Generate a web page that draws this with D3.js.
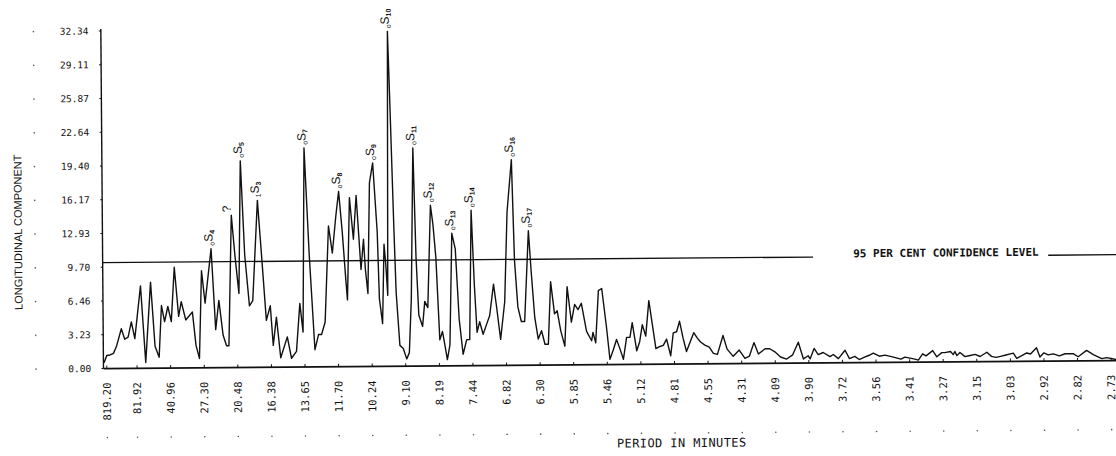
<!DOCTYPE html>
<html>
<head>
<meta charset="utf-8">
<script src="https://cdn.jsdelivr.net/npm/d3@7"></script>
<style>
  body { margin: 0; background: #fff; }
  svg { display: block; }
</style>
</head>
<body>
<div class="chart"></div>
<script>

// frequency index (period = 819.2 / index minutes) and spectral amplitude
const freqIdx = [0.2,1.0,2.0,3.0,3.9,5.4,6.4,7.4,8.4,9.4,11.2,12.6,14.2,15.4,16.6,17.4,18.3,19.3,20.3,21.3,
  22.5,23.3,24.6,26.6,27.6,28.6,29.4,30.4,32.3,33.5,34.5,35.7,36.7,37.4,38.4,39.4,40.5,41.2,42.3,43.6,
  44.6,46.2,47.3,48.6,49.8,50.6,51.6,52.8,54.8,56.0,57.5,58.6,59.5,60.2,61.5,63.0,64.1,65.0,66.1,
  67.3,68.4,69.5,70.4,71.4,72.4,72.8,73.6,74.7,75.6,76.9,77.7,78.2,78.9,79.6,80.6,
  81.8,82.3,83.2,83.8,84.3,84.8,85.3,85.8,86.8,87.3,88.3,89.3,90.3,91.1,91.8,92.6,93.3,94.0,95.1,95.8,
  96.7,97.7,98.4,99.2,100.2,101.0,101.7,102.4,103.2,104.0,105.0,106.0,107.1,108.2,109.1,109.8,110.6,111.3,
  112.1,113.1,114.1,115.1,116.3,117.1,118.3,119.6,120.5,121.9,122.6,123.5,124.5,125.5,126.8,127.5,128.5,
  129.5,130.5,131.5,132.5,
  133.3,134.4,135.2,136.2,137.4,138.2,139.4,140.4,141.4,142.4,143.9,145.4,145.8,146.6,147.5,148.5,149.8,
  150.8,151.8,152.8,153.8,154.8,155.8,156.8,157.5,158.8,
  159.7,160.5,161.5,162.5,164.5,165.7,166.7,167.7,168.9,169.7,170.7,171.6,172.6,173.6,175.8,176.8,177.8,
  179.1,180.4,181.6,182.8,184.5,185.7,187.5,189.3,191.0,192.3,193.7,195.0,197.0,198.4,199.9,201.6,203.4,
  205.2,206.9,208.4,209.8,210.4,211.6,212.8,214.3,216.3,217.3,218.8,220.8,222.1,223.7,225.0,226.4,228.0,
  229.2,231.0,232.7,235.2,237.4,238.6,240.1,241.6,242.6,243.9,244.9,246.9,248.1,249.6,250.5,252.2,253.0,
  253.5,254.1,255.0,256.5,258.0,259.5,261.0,263.0,264.4,265.7,267.1,268.4,270.9,271.9,274.9,276.0,277.8,
  278.8,280.0,281.3,282.8,284.6,286.3,288.7,290.2,292.7,294.7,297.2,298.7,301.5];

const amp = [0.55,1.25,1.3,1.45,2.1,3.8,2.8,3.0,4.45,2.85,7.9,0.55,8.25,2.1,1.05,6.0,4.45,5.9,4.45,9.65,
  4.95,6.35,4.6,5.35,2.15,0.9,9.3,6.2,11.4,3.65,6.45,3.1,2.1,2.1,14.6,10.7,7.1,19.8,10.8,5.9,
  6.4,16.0,10.8,4.5,5.9,2.1,4.8,0.9,2.9,0.85,1.5,6.1,3.35,21.0,10.8,1.65,3.1,3.1,4.3,
  13.5,10.9,14.4,16.8,12.9,8.1,6.4,16.2,12.2,16.4,9.3,12.2,9.3,7.0,17.6,19.5,
  12.9,6.5,4.1,11.7,9.7,6.8,32.1,26.0,12.9,7.1,2.0,1.7,0.7,1.3,6.4,20.9,10.4,4.9,3.8,6.2,
  5.6,15.4,13.6,10.4,2.5,3.3,2.0,0.6,2.0,12.7,11.2,4.5,1.1,2.5,2.5,14.9,7.7,3.2,
  4.2,3.0,3.9,4.8,7.8,5.8,2.5,6.1,14.7,19.7,10.1,5.6,4.2,4.2,12.9,9.2,4.6,
  2.5,3.3,2.0,2.0,
  8.0,4.9,5.2,3.3,1.8,7.5,4.1,5.8,5.3,5.9,3.2,2.3,3.1,2.1,7.1,7.3,3.7,
  0.5,1.4,2.4,1.5,0.5,2.6,2.6,4.0,1.3,
  2.2,3.8,2.7,6.1,1.5,1.7,1.8,2.4,0.8,3.0,3.1,4.1,2.5,1.2,3.0,2.5,2.1,
  1.8,1.6,1.0,0.9,2.7,1.4,0.7,1.3,0.5,0.7,2.0,0.9,1.4,1.4,1.1,0.6,0.4,
  0.8,2.0,0.4,0.7,0.4,1.4,0.8,1.0,0.6,0.8,0.4,1.2,0.4,0.6,0.3,0.5,0.7,
  0.9,0.6,0.7,0.5,0.3,0.5,0.4,0.3,0.2,0.8,0.6,1.1,0.5,0.9,0.9,1.0,0.7,
  1.0,0.6,0.9,0.5,0.6,0.7,0.5,0.9,0.5,0.4,0.5,0.6,0.8,0.3,0.8,0.7,1.3,
  0.4,0.8,0.6,0.7,0.5,0.7,0.7,0.4,1.0,0.6,0.2,0.3,0.1];

// axis ticks
const ampTickVals = [0, 3.234, 6.468, 9.702, 12.936, 16.17, 19.404, 22.638, 25.872, 29.106, 32.34];
const ampTickLabels = ["0.00","3.23","6.46","9.70","12.93","16.17","19.40","22.64","25.87","29.11","32.34"];
const periodIdx = [1,10,20,30,40,50,60,70,80,90,100,110,120,130,140,150,160,170,180,190,200,
  210,220,230,240,250,260,270,280,290,300];
const periodLabels = ["819.20","81.92","40.96","27.30","20.48","16.38","13.65","11.70","10.24","9.10",
  "8.19","7.44","6.82","6.30","5.85","5.46","5.12","4.81","4.55","4.31","4.09","3.90","3.72","3.56",
  "3.41","3.27","3.15","3.03","2.92","2.82","2.73"];

// confidence level and its two drawn pieces (left of label, right of label)
const confLevel = 10.15;
const confSpans = [[0, 211.5], [281.5, 305]];

// mode identifications: [frequency index, prefix, letter, suffix]
const peakIdx = [32.3, 38.4, 41.2, 46.2, 60.2, 70.4, 80.6, 85.3, 92.6, 97.7, 104.0, 109.8, 121.9, 126.8];
const peakPre = ["o", "", "o", "1", "o", "o", "o", "o", "o", "o", "o", "o", "o", "o"];
const peakMid = ["S", "?", "S", "S", "S", "S", "S", "S", "S", "S", "S", "S", "S", "S"];
const peakSub = ["4", "", "5", "3", "7", "8", "9", "10", "11", "12", "13", "14", "16", "17"];


const W = 1116, H = 456;

const svg = d3.select(".chart").append("svg")
    .attr("width", W)
    .attr("height", H);

// the scanned plot is tilted a little
const g = svg.append("g").attr("transform", "rotate(-0.45,560,228)");

const x = d3.scaleLinear().domain([0, 300]).range([102.4, 1110.1]);
const y = d3.scaleLinear().domain([0, 32.34]).range([365, 27.5]);

const mono = "'DejaVu Sans Mono', monospace";

// y axis
g.append("line")
    .attr("x1", x(0)).attr("x2", x(0))
    .attr("y1", y(0)).attr("y2", y(32.34) - 2)
    .attr("stroke", "#111").attr("stroke-width", 1.4);

g.selectAll(".ytick").data(ampTickVals).enter().append("line")
    .attr("class", "ytick")
    .attr("x1", x(0) - 2).attr("x2", x(0))
    .attr("y1", d => y(d)).attr("y2", d => y(d))
    .attr("stroke", "#111");

g.selectAll(".ylab").data(ampTickLabels).enter().append("text")
    .attr("class", "ylab")
    .attr("x", 90)
    .attr("y", (d, i) => y(ampTickVals[i]))
    .attr("dy", "0.35em")
    .attr("text-anchor", "end")
    .attr("font-family", mono)
    .attr("font-size", 9.5)
    .attr("fill", "#111")
    .text(d => d);

g.selectAll(".ydot").data(ampTickVals).enter().append("circle")
    .attr("class", "ydot")
    .attr("cx", 35).attr("cy", d => y(d))
    .attr("r", 0.8).attr("fill", "#555");

// x axis
g.append("line")
    .attr("x1", x(0)).attr("x2", x(305))
    .attr("y1", y(0)).attr("y2", y(0))
    .attr("stroke", "#111").attr("stroke-width", 1.6);

g.selectAll(".xtick").data(periodIdx).enter().append("line")
    .attr("class", "xtick")
    .attr("x1", d => x(d)).attr("x2", d => x(d))
    .attr("y1", y(0)).attr("y2", y(0) - 3)
    .attr("stroke", "#111");

g.selectAll(".xlab").data(periodLabels).enter().append("text")
    .attr("class", "xlab")
    .attr("transform", (d, i) => "translate(" + x(periodIdx[i]) + ",379) rotate(-90)")
    .attr("dy", "0.35em")
    .attr("text-anchor", "end")
    .attr("font-family", mono)
    .attr("font-size", 10.5)
    .attr("fill", "#111")
    .text(d => d);

g.selectAll(".xdot").data(periodIdx).enter().append("circle")
    .attr("class", "xdot")
    .attr("cx", d => x(d)).attr("cy", 434)
    .attr("r", 0.8).attr("fill", "#555");

// axis titles
g.append("text")
    .attr("transform", "translate(18,228) rotate(-90)")
    .attr("dy", "0.35em")
    .attr("text-anchor", "middle")
    .attr("font-family", "'Liberation Sans', Arial, sans-serif")
    .attr("font-size", 11)
    .attr("fill", "#111")
    .text("LONGITUDINAL COMPONENT");

g.append("text")
    .attr("x", 680).attr("y", 448)
    .attr("text-anchor", "middle")
    .attr("font-family", mono)
    .attr("font-size", 12)
    .attr("letter-spacing", 0.4)
    .attr("fill", "#111")
    .text("PERIOD IN MINUTES");

// confidence level
g.selectAll(".conf").data(confSpans).enter().append("line")
    .attr("class", "conf")
    .attr("x1", d => x(d[0])).attr("x2", d => x(d[1]))
    .attr("y1", y(confLevel)).attr("y2", y(confLevel))
    .attr("stroke", "#111").attr("stroke-width", 1.3);

g.append("text")
    .attr("x", 853).attr("y", y(confLevel) + 0.5)
    .attr("font-family", mono)
    .attr("font-weight", "bold")
    .attr("font-size", 11)
    .attr("fill", "#111")
    .text("95 PER CENT CONFIDENCE LEVEL");

// spectrum
let pts = freqIdx.map((f, i) => [f, amp[i]]);

let line = d3.line()
    .x(d => x(d[0]))
    .y(d => y(d[1]));

g.append("path")
    .datum(pts)
    .attr("d", line)
    .attr("fill", "none")
    .attr("stroke", "#111")
    .attr("stroke-width", 1.4)
    .attr("stroke-linejoin", "round");

// peak labels
let labs = g.selectAll(".peak").data(peakIdx).enter().append("g")
    .attr("class", "peak")
    .attr("transform", function (d) {
        let v = amp[freqIdx.indexOf(d)];
        return "translate(" + (x(d) + 1.5) + "," + (y(v) - 3) + ") rotate(-90)";
    });

let lt = labs.append("text")
    .attr("font-family", "'Liberation Sans', Arial, sans-serif")
    .attr("font-size", 12)
    .attr("fill", "#111");

lt.append("tspan").attr("font-size", 7).attr("dy", 2).text((d, i) => peakPre[i]);
lt.append("tspan").attr("dy", -2).text((d, i) => peakMid[i]);
lt.append("tspan").attr("font-size", 7).attr("font-weight", "bold").attr("dy", 2).text((d, i) => peakSub[i]);

</script>
</body>
</html>
